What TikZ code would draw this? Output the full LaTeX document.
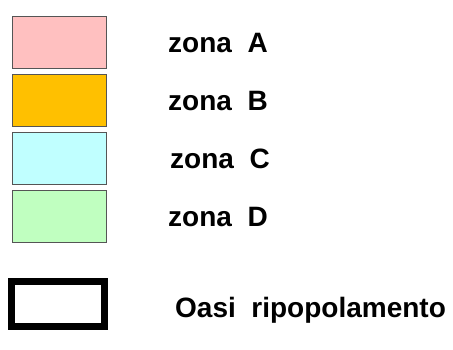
\documentclass[tikz,border=0pt]{standalone}
\usepackage{fontspec}
\setmainfont{Liberation Sans}
\definecolor{zA}{HTML}{FFC0C0}
\definecolor{zB}{HTML}{FFC000}
\definecolor{zC}{HTML}{C0FFFF}
\definecolor{zD}{HTML}{C0FFC0}
\definecolor{edge}{HTML}{555555}
\begin{document}
\begin{tikzpicture}[x=1pt,y=-1pt,
  swatch/.style={draw=edge,line width=1pt},
  lbl/.style={anchor=base west,inner sep=0pt,font=\fontsize{28}{32}\selectfont\bfseries}]
\useasboundingbox (0,0) rectangle (453,349);
\draw[swatch,fill=zA] (12.5,16.5) rectangle (106.5,68.5);
\draw[swatch,fill=zB] (12.5,74.5) rectangle (106.5,126.5);
\draw[swatch,fill=zC] (12.5,132.5) rectangle (106.5,184.5);
\draw[swatch,fill=zD] (12.5,190.5) rectangle (106.5,242.5);
\draw[line width=7pt,fill=white] (11.5,281.5) rectangle (104.5,326.5);
\node[lbl] (a) at (168,52) {zona\ \ A};
\node[lbl] (b) at (168,110) {zona\ \ B};
\node[lbl] (c) at (170,168) {zona\ \ C};
\node[lbl] (d) at (168,226) {zona\ \ D};
\node[lbl] (o) at (175,317) {Oasi\ \ ripopolamento};
\end{tikzpicture}
\end{document}
